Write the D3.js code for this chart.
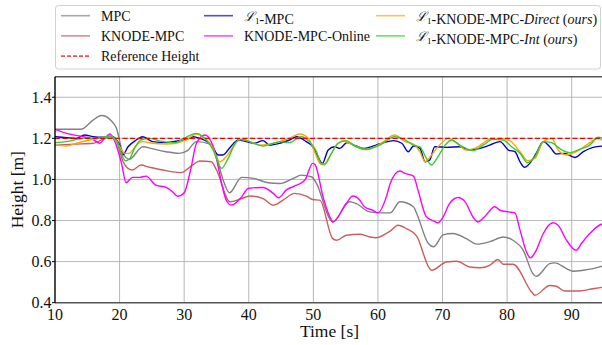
<!DOCTYPE html>
<html>
<head>
<meta charset="utf-8">
<script src="https://cdn.jsdelivr.net/npm/d3@7"></script>
<style>
  body { margin: 0; background: #fff; }
  svg { display: block; font-family: "Liberation Serif", "DejaVu Serif", serif; }
</style>
</head>
<body>
<div id="chart"></div>
<script>
// time [s], height [m]
const mpc = [[10,1.244],[14,1.244],[15.9,1.289],[17.2,1.311],[18.7,1.286],[19.5,1.25],[20.5,1.13],[21.5,1.098],[23.6,1.159],[25,1.15],[27.2,1.135],[29.2,1.127],[30.5,1.14],[31.9,1.184],[34,1.172],[34.7,1.143],[36,1.0],[37,0.935],[38.9,1.01],[40.7,1.005],[43,0.984],[44.8,0.98],[46.9,1.005],[48.1,1.021],[49.7,1.013],[50.5,0.98],[52.5,0.81],[53,0.793],[55.6,0.891],[56.6,0.883],[58.7,0.842],[60.3,0.837],[61.9,0.837],[63.4,0.891],[65.5,0.867],[66,0.834],[67.8,0.688],[68.6,0.672],[70.1,0.73],[71.6,0.737],[73.7,0.712],[75.3,0.685],[77.3,0.697],[79.4,0.72],[80.9,0.704],[82.5,0.655],[84,0.541],[84.5,0.528],[86.6,0.59],[87.4,0.594],[89.2,0.566],[90.2,0.553],[91.8,0.558],[93.3,0.566],[95,0.58]];

const knodeMpc = [[10,1.167],[13,1.172],[15.9,1.176],[18.5,1.208],[19.3,1.2],[20.5,1.09],[21.3,1.054],[22,1.046],[23.3,1.07],[24.6,1.059],[26.7,1.046],[28.2,1.037],[29.5,1.033],[31.3,1.07],[32.4,1.09],[34.2,1.086],[35,1.046],[37.1,0.891],[38.9,0.907],[40.2,0.919],[42.2,0.907],[43.8,0.875],[45.3,0.899],[47.1,0.932],[48.9,0.919],[49.9,0.902],[51,0.899],[53,0.712],[53.6,0.704],[55.1,0.728],[57.2,0.733],[58.7,0.72],[59.7,0.716],[61.3,0.737],[61.9,0.748],[63.1,0.777],[64.4,0.761],[66,0.724],[68,0.566],[68.3,0.558],[70.6,0.598],[72.2,0.602],[74.2,0.574],[75.8,0.57],[77.3,0.582],[78.6,0.61],[79.4,0.587],[80.9,0.587],[83.8,0.452],[84.3,0.436],[86.6,0.484],[87.6,0.48],[88.9,0.457],[91.2,0.457],[93.3,0.468],[95,0.476]];

const l1Mpc = [[10,1.208],[11.8,1.203],[13.3,1.2],[14.6,1.216],[15.9,1.208],[17.2,1.205],[18.7,1.211],[20,1.167],[20.5,1.119],[21.3,1.159],[22.6,1.192],[23.6,1.208],[25.1,1.184],[27.2,1.179],[29.2,1.189],[30.8,1.2],[31.4,1.208],[32.4,1.2],[34.2,1.167],[35.3,1.119],[36,1.119],[37.1,1.156],[38.4,1.192],[39.6,1.184],[40.9,1.176],[42.2,1.189],[43.2,1.167],[44.8,1.176],[46.3,1.192],[47.4,1.208],[48.9,1.184],[49.9,1.159],[50.7,1.111],[51.4,1.078],[52.3,1.143],[53.3,1.159],[54.1,1.151],[55.2,1.179],[56.6,1.163],[57.9,1.151],[59.7,1.167],[61.5,1.184],[62.4,1.189],[63.7,1.176],[64.7,1.135],[65.5,1.163],[66.5,1.151],[67.3,1.086],[68,1.094],[68.8,1.159],[70.6,1.156],[72.7,1.159],[74.2,1.143],[75.8,1.151],[77.3,1.167],[78.9,1.184],[80.2,1.143],[81.2,1.135],[82,1.086],[82.7,1.059],[83.5,1.078],[84.5,1.127],[85.6,1.184],[86.6,1.159],[87.6,1.124],[88.9,1.127],[90.5,1.107],[91.8,1.135],[93.3,1.156],[95,1.163]];

const knodeOnline = [[10,1.244],[11.8,1.224],[14.4,1.208],[15.6,1.2],[16.9,1.176],[17.7,1.2],[18.5,1.221],[19.2,1.19],[20.3,1.078],[21,0.984],[22,1.01],[23.1,1.01],[24.1,1.016],[25.6,0.972],[27.2,0.961],[28.2,0.94],[29,0.918],[30,0.935],[31,1.046],[31.9,1.176],[33.2,1.216],[33.7,1.208],[34.5,1.16],[36.5,0.9],[37.3,0.875],[38.9,0.915],[39.9,0.956],[42.2,0.961],[43.8,0.932],[44.6,0.911],[45.8,0.948],[47.4,0.972],[48.7,0.997],[49.9,1.078],[50.3,1.07],[51.5,0.915],[52.8,0.802],[53,0.793],[55.1,0.883],[56.1,0.919],[57.2,0.899],[57.9,0.867],[59.2,0.85],[60,0.838],[61.3,0.915],[61.9,0.98],[63.4,1.041],[64.2,1.029],[65.5,1.016],[66.2,0.948],[67.5,0.818],[68.6,0.798],[69.3,0.789],[70.1,0.818],[71.1,0.883],[72.4,0.912],[73.5,0.891],[74.7,0.818],[75.5,0.793],[76.5,0.818],[78.1,0.867],[78.9,0.85],[80.2,0.842],[81.2,0.837],[82,0.753],[83,0.647],[83.6,0.618],[84.5,0.655],[85.6,0.737],[87.1,0.789],[87.9,0.777],[89.2,0.704],[90.7,0.655],[91.5,0.688],[92.8,0.737],[94.6,0.782],[95,0.785]];

const l1Direct = [[10,1.167],[11.8,1.163],[13.3,1.176],[15.4,1.192],[17.4,1.203],[18.7,1.211],[19.7,1.176],[20.8,1.127],[21.5,1.127],[22.6,1.167],[23.6,1.184],[25.1,1.176],[27.2,1.172],[28.7,1.176],[30.3,1.192],[31.9,1.221],[33.2,1.2],[34.2,1.167],[35.5,1.086],[36.5,1.111],[37.6,1.159],[38.6,1.195],[40.2,1.184],[41.7,1.167],[43.2,1.172],[44.8,1.184],[46.3,1.2],[47.9,1.221],[49.2,1.2],[50.2,1.135],[51,1.078],[51.6,1.07],[52.5,1.111],[53.6,1.167],[54.6,1.187],[56.2,1.167],[58.2,1.146],[60.3,1.172],[62.6,1.216],[64.2,1.184],[65.5,1.172],[66.5,1.135],[67.3,1.086],[68,1.107],[69.3,1.159],[70.9,1.2],[72.4,1.172],[73.7,1.143],[75.3,1.156],[77.3,1.195],[78.9,1.2],[80.4,1.189],[82,1.135],[83.2,1.091],[84.3,1.102],[85.6,1.184],[86.9,1.2],[87.9,1.143],[89.2,1.119],[90.7,1.135],[92.5,1.172],[94.1,1.2],[95,1.184]];

const l1Int = [[10,1.179],[11.8,1.184],[14.4,1.2],[16.4,1.2],[18.5,1.211],[19.5,1.192],[20,1.151],[20.9,1.091],[21.5,1.098],[22.3,1.151],[23.3,1.192],[24.6,1.2],[26.7,1.184],[28.7,1.179],[30,1.2],[31.9,1.224],[32.9,1.208],[34.5,1.143],[35.8,1.054],[36.8,1.102],[38.1,1.184],[39.1,1.195],[40.7,1.176],[42.2,1.163],[43.8,1.176],[44.8,1.184],[46.3,1.179],[48.1,1.208],[49.4,1.184],[50.5,1.135],[51.2,1.078],[51.8,1.075],[52.8,1.127],[53.8,1.176],[55.1,1.189],[56.6,1.159],[58.2,1.146],[60.3,1.167],[62.6,1.208],[64.2,1.192],[65.5,1.167],[66.5,1.159],[67.5,1.102],[68.3,1.07],[69.3,1.111],[70.4,1.167],[71.4,1.192],[72.7,1.167],[74.7,1.14],[76.3,1.167],[77.8,1.195],[79.4,1.192],[80.7,1.159],[82,1.127],[83.2,1.081],[84.3,1.111],[85.6,1.184],[86.9,1.179],[88.1,1.151],[89.7,1.13],[91.2,1.146],[92.8,1.167],[94.1,1.205],[95,1.2]];

const referenceHeight = 1.2;
const xTicks = [10, 20, 30, 40, 50, 60, 70, 80, 90];
const yTicks = [0.4, 0.6, 0.8, 1.0, 1.2, 1.4];

const series = [
  { name: "MPC", data: mpc, color: "#808080" },
  { name: "KNODE-MPC", data: knodeMpc, color: "#cd5c5c" },
  { name: "L1-MPC", data: l1Mpc, color: "#0000cd" },
  { name: "KNODE-MPC-Online", data: knodeOnline, color: "#ff00ff" },
  { name: "L1-KNODE-MPC-Direct", data: l1Direct, color: "#ffa500" },
  { name: "L1-KNODE-MPC-Int", data: l1Int, color: "#32cd32" }
];

const width = 602, height = 345;
const margin = { top: 76.7, right: -2, bottom: 42.3, left: 55 };

const svg = d3.select("#chart").append("svg")
  .attr("width", width).attr("height", height);

const x = d3.scaleLinear().domain([10, 95]).range([margin.left, width - margin.right]);
const y = d3.scaleLinear().domain([0.4, 1.5]).range([height - margin.bottom, margin.top]);

svg.append("clipPath").attr("id", "plot")
  .append("rect")
  .attr("x", margin.left).attr("y", margin.top)
  .attr("width", width - margin.left).attr("height", y(0.4) - margin.top);

// grid
const grid = svg.append("g").attr("stroke", "#b0b0b0").attr("stroke-width", 0.9);
grid.selectAll(".gx").data(xTicks.slice(1)).join("line")
  .attr("x1", d => x(d)).attr("x2", d => x(d))
  .attr("y1", margin.top).attr("y2", y(0.4));
grid.selectAll(".gy").data(yTicks.slice(1)).join("line")
  .attr("x1", margin.left).attr("x2", width)
  .attr("y1", d => y(d)).attr("y2", d => y(d));

const line = d3.line()
  .x(d => x(d[0]))
  .y(d => y(d[1]))
  .curve(d3.curveMonotoneX);

const plot = svg.append("g").attr("clip-path", "url(#plot)");
plot.selectAll(".series").data(series).join("path")
  .attr("class", "series")
  .attr("fill", "none")
  .attr("stroke", d => d.color)
  .attr("stroke-width", 1.4)
  .attr("d", d => line(d.data));

plot.append("line")
  .attr("x1", x(10)).attr("x2", x(95))
  .attr("y1", y(referenceHeight)).attr("y2", y(referenceHeight))
  .attr("stroke", "#ff0000").attr("stroke-width", 1.4)
  .attr("stroke-dasharray", "5,2.5");

// spines
svg.append("line").attr("x1", margin.left).attr("x2", width)
  .attr("y1", margin.top).attr("y2", margin.top)
  .attr("stroke", "#555").attr("stroke-width", 1.6);
svg.append("line").attr("x1", margin.left).attr("x2", width)
  .attr("y1", y(0.4)).attr("y2", y(0.4))
  .attr("stroke", "#555").attr("stroke-width", 1.6);
svg.append("line").attr("x1", margin.left).attr("x2", margin.left)
  .attr("y1", margin.top).attr("y2", y(0.4))
  .attr("stroke", "#000").attr("stroke-width", 1.4);

// small outward ticks on the height axis
svg.append("g").selectAll("line").data(yTicks).join("line")
  .attr("x1", margin.left - 3).attr("x2", margin.left)
  .attr("y1", d => y(d)).attr("y2", d => y(d))
  .attr("stroke", "#000").attr("stroke-width", 1);

// tick labels
svg.append("g").selectAll("text").data(xTicks).join("text")
  .attr("x", d => x(d)).attr("y", y(0.4) + 17)
  .attr("text-anchor", "middle")
  .attr("font-size", 16)
  .attr("fill", "#111")
  .text(d => d);
svg.append("g").selectAll("text").data(yTicks).join("text")
  .attr("x", margin.left - 3.5).attr("y", d => y(d) + 5.5)
  .attr("text-anchor", "end")
  .attr("font-size", 16)
  .attr("fill", "#111")
  .text(d => d.toFixed(1));

svg.append("text")
  .attr("x", 329.5).attr("y", 337)
  .attr("text-anchor", "middle").attr("font-size", 17.5).attr("fill", "#111")
  .text("Time [s]");
svg.append("text")
  .attr("transform", `translate(23,${(margin.top + y(0.4)) / 2}) rotate(-90)`)
  .attr("text-anchor", "middle").attr("font-size", 17.5).attr("fill", "#111")
  .text("Height [m]");

// legend
const legend = svg.append("g");
legend.append("rect")
  .attr("x", 55.5).attr("y", 5.5).attr("width", 545).attr("height", 63.5)
  .attr("rx", 3).attr("fill", "#fff").attr("fill-opacity", 0.8)
  .attr("stroke", "#d0d0d0").attr("stroke-width", 1);

const legendItems = [
  { col: 0, row: 0, color: "#808080", label: [["MPC", ""]] },
  { col: 0, row: 1, color: "#cd5c5c", label: [["KNODE-MPC", ""]] },
  { col: 0, row: 2, color: "#ff0000", dash: true, label: [["Reference Height", ""]] },
  { col: 1, row: 0, color: "#0000cd", l1: true, label: [["-MPC", ""]] },
  { col: 1, row: 1, color: "#ff00ff", label: [["KNODE-MPC-Online", ""]] },
  { col: 2, row: 0, color: "#ffa500", l1: true, label: [["-KNODE-MPC-", ""], ["Direct", "italic"], [" (", ""], ["ours", "italic"], [")", ""]] },
  { col: 2, row: 1, color: "#32cd32", l1: true, label: [["-KNODE-MPC-", ""], ["Int", "italic"], [" (", ""], ["ours", "italic"], [")", ""]] }
];
const colX = [61, 204, 376];
const rowY = [15.7, 35.9, 56.1];

legendItems.forEach(it => {
  const lx = colX[it.col], ly = rowY[it.row];
  legend.append("line")
    .attr("x1", lx).attr("x2", lx + 29)
    .attr("y1", ly).attr("y2", ly)
    .attr("stroke", it.color).attr("stroke-width", 1.6)
    .attr("stroke-opacity", 0.7)
    .attr("stroke-dasharray", it.dash ? "4,2" : null);
  const t = legend.append("text")
    .attr("x", lx + 40).attr("y", ly + 5)
    .attr("font-size", 14).attr("fill", "#111");
  if (it.l1) {
    t.append("tspan").attr("font-style", "italic")
      .attr("font-family", "'DejaVu Serif', serif").attr("font-size", 13).text("\u2112");
    t.append("tspan").attr("font-size", 9).attr("dy", 3).text("1");
    t.append("tspan").attr("dy", -3).text("");
  }
  it.label.forEach(([s, st]) => {
    t.append("tspan").attr("font-style", st || null).text(s);
  });
});
</script>
</body>
</html>
